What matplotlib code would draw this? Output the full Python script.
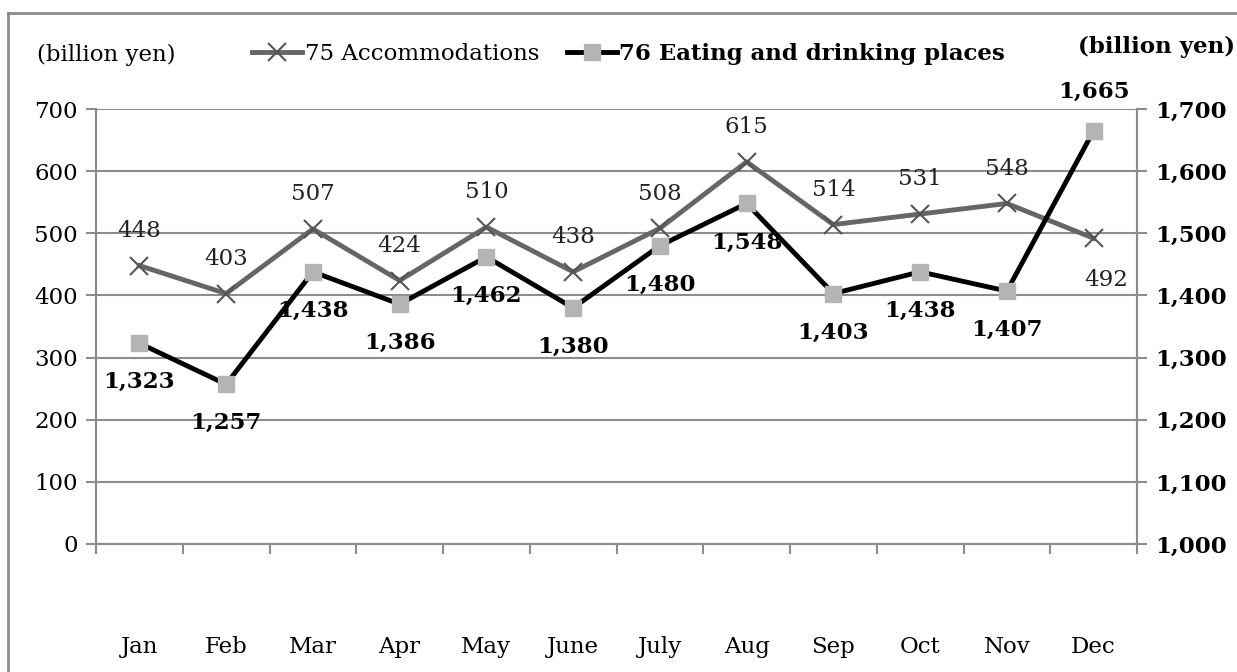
import matplotlib
matplotlib.use("Agg")
import matplotlib.pyplot as plt
from matplotlib.lines import Line2D

plt.rcParams['font.family'] = ['DejaVu Serif']

months = ["Jan", "Feb", "Mar", "Apr", "May", "June", "July", "Aug", "Sep", "Oct", "Nov", "Dec"]
accommodations = [448, 403, 507, 424, 510, 438, 508, 615, 514, 531, 548, 492]
eating = [1323, 1257, 1438, 1386, 1462, 1380, 1480, 1548, 1403, 1438, 1407, 1665]
left_ticks = [0, 100, 200, 300, 400, 500, 600, 700]
right_ticks = [1000, 1100, 1200, 1300, 1400, 1500, 1600, 1700]

grid_col = "#8c8c8c"
acc_col = "#666666"
eat_marker_col = "#b4b4b4"
fs = 16.5

W, H = 1237, 672
fig = plt.figure(figsize=(W / 100, H / 100), dpi=100)
ax = fig.add_axes([96 / W, 1 - 544 / H, (1137 - 96) / W, (544 - 109) / H])
ax2 = ax.twinx()

x = list(range(len(months)))

# outer frame (only top and left edges are visible)
fig.add_artist(Line2D([8 / W, 1], [1 - 13 / H, 1 - 13 / H], color=grid_col, lw=2))
fig.add_artist(Line2D([8 / W, 8 / W], [0, 1 - 13 / H], color=grid_col, lw=2))

ax.set_ylim(0, 700)
ax.set_yticks(left_ticks)
ax.set_yticklabels([str(v) for v in left_ticks], fontsize=fs)
ax.yaxis.grid(True, color=grid_col, lw=1.5)
ax.set_axisbelow(True)
ax.set_xlim(-0.5, len(months) - 0.5)

# ticks between categories, labels at category centres
ax.set_xticks([i - 0.5 for i in range(len(months) + 1)])
ax.set_xticklabels([])
ax.set_xticks(x, minor=True)
ax.set_xticklabels(months, minor=True, fontsize=fs)
ax.tick_params(axis="x", which="major", length=7, width=1.5, color=grid_col)
ax.tick_params(axis="x", which="minor", length=0, pad=66)
ax.tick_params(axis="y", length=7, width=1.5, color=grid_col, pad=6)

ax2.set_ylim(1000, 1700)
ax2.set_yticks(right_ticks)
ax2.set_yticklabels([f"{v:,}" for v in right_ticks], fontsize=fs, fontweight="bold")
ax2.tick_params(axis="y", length=7, width=1.5, color=grid_col, pad=6)

for a in (ax, ax2):
    a.spines["top"].set_visible(False)
    for s in ("left", "right", "bottom"):
        a.spines[s].set_color(grid_col)
        a.spines[s].set_linewidth(1.5)

l1, = ax.plot(x, accommodations, color=acc_col, lw=3.5, marker="x", ms=13, mew=1.5,
              mec="#555555", label="75 Accommodations", zorder=3)
l2, = ax2.plot(x, eating, color="black", lw=3.5, marker="s", ms=12, mfc=eat_marker_col,
               mec=eat_marker_col, label="76 Eating and drinking places", zorder=3)

for i, v in enumerate(accommodations):
    if i == len(accommodations) - 1:
        ax.annotate(f"{v:,}", (i, v), xytext=(9, -30), textcoords="offset points",
                    ha="center", va="center", fontsize=fs, color="#222222")
    else:
        ax.annotate(f"{v:,}", (i, v), xytext=(0, 25), textcoords="offset points",
                    ha="center", va="center", fontsize=fs, color="#222222")

for i, v in enumerate(eating):
    dy = 28 if i == len(eating) - 1 else -28
    ax2.annotate(f"{v:,}", (i, v), xytext=(0, dy), textcoords="offset points",
                 ha="center", va="center", fontsize=fs, fontweight="bold", color="black")

fig.text(37 / W, 1 - 55 / H, "(billion yen)", fontsize=fs, ha="left", va="center")
fig.text(1235 / W, 1 - 47 / H, "(billion yen)", fontsize=fs, ha="right", va="center",
         fontweight="bold")

leg = fig.legend(handles=[l1, l2], loc="center left", bbox_to_anchor=(252 / W, 1 - 54 / H),
                 ncol=2, frameon=False, fontsize=fs, handlelength=2.2, handletextpad=0.1,
                 columnspacing=1.2, borderaxespad=0, borderpad=0)
leg.get_texts()[1].set_fontweight("bold")

fig.savefig("out.png", dpi=100)
